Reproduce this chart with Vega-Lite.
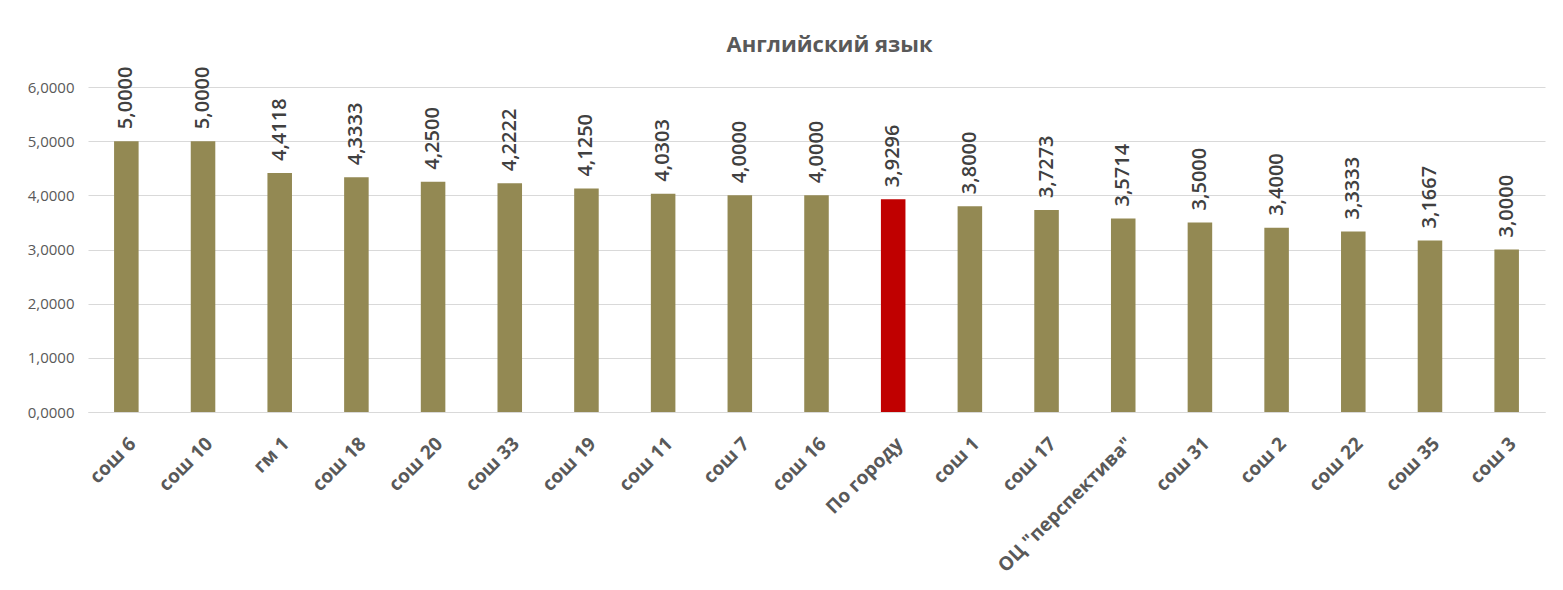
{
  "$schema": "https://vega.github.io/schema/vega-lite/v6.json",
  "width": 1457,
  "height": 325,
  "autosize": {"type": "none"},
  "padding": {"left": 88, "top": 87, "right": 18, "bottom": 178},
  "background": "white",
  "title": {
    "text": "Английский язык",
    "fontSize": 22,
    "font": "Open Sans",
    "fontWeight": "bold",
    "color": "#595959",
    "anchor": "middle",
    "dx": 13,
    "offset": 10
  },
  "config": {
    "view": {"stroke": null},
    "font": "Open Sans",
    "locale": {
      "number": {"decimal": ",", "thousands": " ", "grouping": [3], "currency": ["", " ₽"]}
    }
  },
  "data": {
    "values": [
      {"school": "сош 6", "value": 5.0, "city": "no"},
      {"school": "сош 10", "value": 5.0, "city": "no"},
      {"school": "гм 1", "value": 4.4118, "city": "no"},
      {"school": "сош 18", "value": 4.3333, "city": "no"},
      {"school": "сош 20", "value": 4.25, "city": "no"},
      {"school": "сош 33", "value": 4.2222, "city": "no"},
      {"school": "сош 19", "value": 4.125, "city": "no"},
      {"school": "сош 11", "value": 4.0303, "city": "no"},
      {"school": "сош 7", "value": 4.0, "city": "no"},
      {"school": "сош 16", "value": 4.0, "city": "no"},
      {"school": "По городу", "value": 3.9296, "city": "yes"},
      {"school": "сош 1", "value": 3.8, "city": "no"},
      {"school": "сош 17", "value": 3.7273, "city": "no"},
      {"school": "ОЦ \"перспектива\"", "value": 3.5714, "city": "no"},
      {"school": "сош 31", "value": 3.5, "city": "no"},
      {"school": "сош 2", "value": 3.4, "city": "no"},
      {"school": "сош 22", "value": 3.3333, "city": "no"},
      {"school": "сош 35", "value": 3.1667, "city": "no"},
      {"school": "сош 3", "value": 3.0, "city": "no"}
    ]
  },
  "encoding": {
    "x": {
      "field": "school",
      "type": "nominal",
      "sort": null,
      "scale": {"paddingInner": 0.68, "paddingOuter": 0.34},
      "axis": {
        "title": null,
        "labelAngle": -45,
        "labelFontSize": 19,
        "labelFontWeight": "bold",
        "labelColor": "#595959",
        "labelPadding": 22,
        "ticks": false,
        "domainColor": "#d9d9d9",
        "labelLimit": 300
      }
    },
    "y": {
      "field": "value",
      "type": "quantitative",
      "scale": {"domain": [0, 6]},
      "axis": {
        "title": null,
        "values": [0, 1, 2, 3, 4, 5, 6],
        "format": ".4f",
        "labelOverlap": false,
        "labelFontSize": 15,
        "labelColor": "#595959",
        "labelPadding": 14,
        "ticks": false,
        "domain": false,
        "gridColor": "#d9d9d9"
      }
    }
  },
  "layer": [
    {
      "mark": {"type": "bar"},
      "encoding": {
        "color": {
          "field": "city",
          "type": "nominal",
          "scale": {"domain": ["no", "yes"], "range": ["#938953", "#c00000"]},
          "legend": null
        }
      }
    },
    {
      "mark": {
        "type": "text",
        "angle": -90,
        "align": "left",
        "baseline": "middle",
        "dx": 12,
        "fontSize": 20,
        "fontWeight": 600,
        "color": "#404040"
      },
      "encoding": {
        "text": {"field": "value", "type": "quantitative", "format": ".4f"}
      }
    }
  ]
}
